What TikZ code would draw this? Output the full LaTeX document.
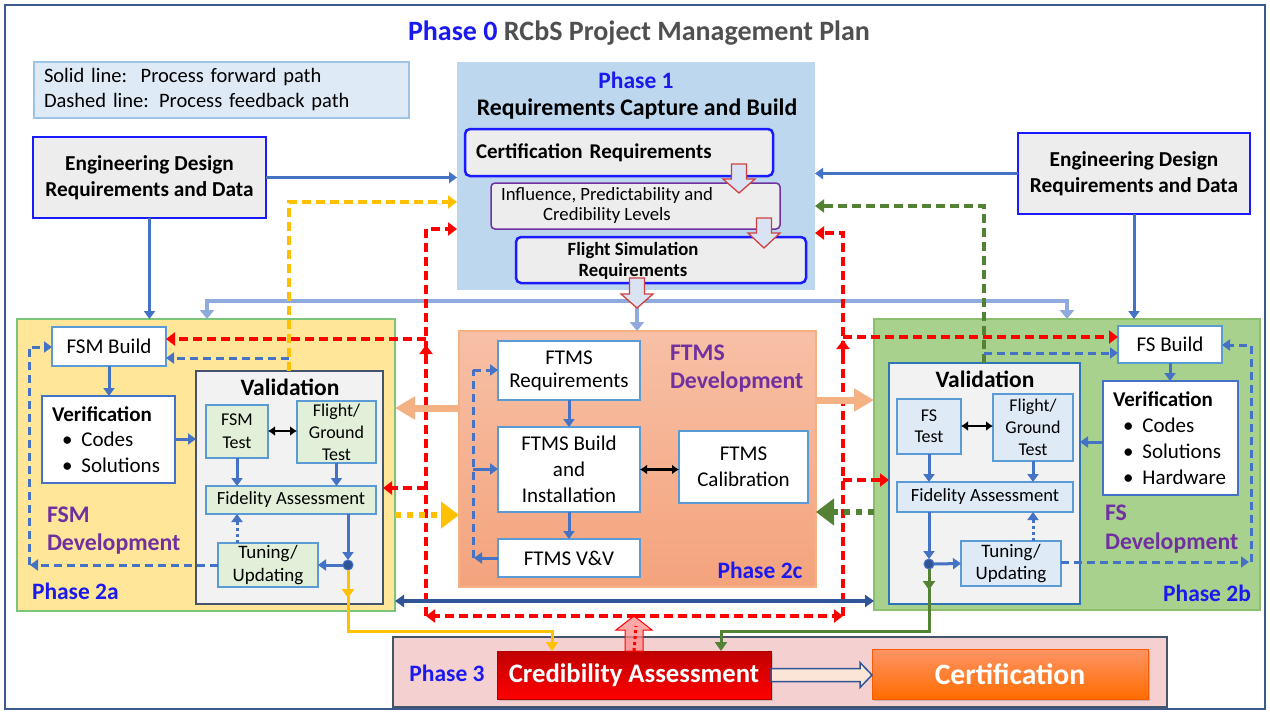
\documentclass[tikz,border=0pt]{standalone}
\usepackage{fontspec}
\setmainfont{Carlito}
\usetikzlibrary{arrows.meta,shadows,calc}
\definecolor{phblue}{HTML}{1A1AEE}
\definecolor{ttlgray}{HTML}{505050}
\definecolor{legfill}{HTML}{DEEBF7}
\definecolor{legdraw}{HTML}{9DC3E6}
\definecolor{engfill}{HTML}{EDEDED}
\definecolor{engdraw}{HTML}{1A1AFF}
\definecolor{p1fill}{HTML}{BDD7EE}
\definecolor{purp}{HTML}{7030A0}
\definecolor{fsmfill}{HTML}{FFE699}
\definecolor{fsmdraw}{HTML}{7CC47C}
\definecolor{fsfill}{HTML}{A9D18E}
\definecolor{fsdraw}{HTML}{8CBF6C}
\definecolor{ftmstop}{HTML}{F7C0A6}
\definecolor{ftmsbot}{HTML}{F4A37C}
\definecolor{ftmsdraw}{HTML}{F4B183}
\definecolor{valfill}{HTML}{F2F2F2}
\definecolor{valLdraw}{HTML}{44546A}
\definecolor{valRdraw}{HTML}{2E75B6}
\definecolor{lboxdraw}{HTML}{5B9BD5}
\definecolor{verdraw}{HTML}{4472C4}
\definecolor{grnbox}{HTML}{E2F0D9}
\definecolor{blubox}{HTML}{DEEBF7}
\definecolor{arrblue}{HTML}{4472C4}
\definecolor{lightline}{HTML}{8FAADC}
\definecolor{ylw}{HTML}{FFC000}
\definecolor{grn}{HTML}{548235}
\definecolor{rd}{HTML}{FF0000}
\definecolor{dkblue}{HTML}{2F5597}
\definecolor{peach}{HTML}{F4B183}
\definecolor{p3fill}{HTML}{F4D0D0}
\definecolor{p3draw}{HTML}{44546A}
\definecolor{framec}{HTML}{3B5A8C}
\definecolor{blkfill}{HTML}{DAE3F3}
\definecolor{blkdraw}{HTML}{D04040}
\definecolor{hollowfill}{HTML}{FBE5D6}
\begin{document}
\begin{tikzpicture}[x=1pt,y=-1pt,
  every node/.style={inner sep=0pt,outer sep=0pt},
  fz/.style 2 args={font=\fontsize{#1}{#2}\selectfont},
  fzb/.style 2 args={font=\fontsize{#1}{#2}\selectfont\bfseries},
  wbox/.style={draw=lboxdraw,fill=white,line width=2.5pt,align=center},
  gbox/.style={draw=lboxdraw,fill=grnbox,line width=2.5pt,align=center},
  lbbox/.style={draw=lboxdraw,fill=blubox,line width=2.5pt,align=center},
  bsol/.style={draw=arrblue,line width=3pt,-{Triangle[length=8pt,width=11pt]}},
  bdash/.style={bsol,dash pattern=on 8pt off 5pt},
  bdot/.style={bsol,dash pattern=on 3pt off 3pt},
  rdash/.style={draw=rd,line width=3.5pt,dash pattern=on 9pt off 5pt,-{Triangle[length=9pt,width=13pt]}},
  rtip/.style={draw=rd,line width=3.5pt,-{Triangle[length=9pt,width=13pt]}},
  ydash/.style={draw=ylw,line width=3.5pt,dash pattern=on 9pt off 5pt,-{Triangle[length=9pt,width=13pt]}},
  gdash/.style={draw=grn,line width=3.5pt,dash pattern=on 9pt off 5pt,-{Triangle[length=9pt,width=13pt]}},
  ysol/.style={draw=ylw,line width=3pt,-{Triangle[length=9pt,width=12pt]}},
  gsol/.style={draw=grn,line width=3pt,-{Triangle[length=9pt,width=12pt]}},
  lbl/.style={draw=lightline,line width=4pt,-{Triangle[length=9pt,width=14pt]}},
  blk/.style={draw=black,line width=2.6pt,{Latex[length=7pt,width=10pt]}-{Latex[length=7pt,width=10pt]}},
  peacharr/.style={draw=peach,line width=7pt,-{Triangle[length=20pt,width=22pt]}},
  ydot/.style={draw=ylw,line width=6pt,dash pattern=on 6pt off 6pt,-{Triangle[length=18pt,width=26pt]}},
  gdot/.style={draw=grn,line width=6pt,dash pattern=on 6pt off 6pt,-{Triangle[length=18pt,width=26pt]}},
  dkarr/.style={draw=dkblue,line width=3.5pt,{Triangle[length=9pt,width=12pt]}-{Triangle[length=9pt,width=12pt]}},
  blkarr/.style={draw=blkdraw,fill=blkfill,line width=1.3pt},
  junc/.style={circle,fill=dkblue,draw=arrblue,line width=1pt,minimum size=10pt},
  purplab/.style={fzb={23.8}{28.5},text=purp,align=left,anchor=west},
  phlab/.style={fzb={23.5}{26},text=phblue}
]
\useasboundingbox (0,0) rectangle (1270,713);
\fill[white] (0,0) rectangle (1270,713);
\node[draw=framec,line width=2.5pt,minimum width=1260pt,minimum height=704pt] (frame) at (635,357) {};

% title and legend
\node[fzb={28}{32}] (title) at (639,33) {\textcolor{phblue}{Phase 0} \textcolor{ttlgray}{RCbS Project Management Plan}};
\node[draw=legdraw,fill=legfill,line width=1.5pt,minimum width=375pt,minimum height=56pt,text width=355pt,align=left,fz={20.5}{25}] (legend) at (221.5,90) {Solid line:\ \ Process forward path\\Dashed line: Process feedback path};

% engineering boxes
\node[draw=engdraw,fill=engfill,line width=2.5pt,minimum width=233pt,minimum height=81pt,align=center,fzb={21.3}{26}] (engL) at (149.5,177.5) {Engineering Design\\Requirements and Data};
\node[draw=engdraw,fill=engfill,line width=2.5pt,minimum width=232pt,minimum height=81pt,align=center,fzb={21.3}{26}] (engR) at (1134,173.5) {Engineering Design\\Requirements and Data};

% phase regions
\node[fill=p1fill,minimum width=358pt,minimum height=228pt] (p1) at (636,176) {};
\node[draw=fsmdraw,fill=fsmfill,line width=1.5pt,minimum width=378pt,minimum height=292pt] (p2a) at (206,465) {};
\node[draw=ftmsdraw,top color=ftmstop,bottom color=ftmsbot,line width=1.2pt,minimum width=357pt,minimum height=256pt] (p2c) at (637.5,459) {};
\node[draw=fsdraw,fill=fsfill,line width=1.5pt,minimum width=386pt,minimum height=291pt] (p2b) at (1067,464.5) {};
\node[draw=p3draw,fill=p3fill,line width=1.5pt,minimum width=774pt,minimum height=70pt] (p3) at (780,672) {};

% phase 1 content
\node[phlab] (p1lab) at (636,80) {Phase 1};
\node[fzb={23.8}{26}] (p1ttl) at (637,109) {Requirements Capture and Build};
\node[draw=engdraw,fill=engfill,line width=2.5pt,rounded corners=5pt,minimum width=308pt,minimum height=47pt,text width=286pt,align=left,fzb={21}{23}] (certreq) at (619,152.5) {Certification Requirements};
\node[draw=purp,fill=engfill,line width=1.5pt,rounded corners=4pt,minimum width=289pt,minimum height=46pt] (infl) at (635.5,206) {};
\node[fz={18.7}{20},align=center] (infltxt) at (607,205.5) {Influence, Predictability and\\Credibility Levels};
\node[draw=engdraw,fill=engfill,line width=2.5pt,rounded corners=5pt,minimum width=290pt,minimum height=46pt] (fltsim) at (661,260) {};
\node[fzb={18.7}{21},align=center] (fltsimtxt) at (633,260.5) {Flight Simulation\\Requirements};

% phase 2a content
\node[wbox,minimum width=114pt,minimum height=39pt,fz={21}{24}] (fsmBuild) at (109,346.5) {FSM Build};
\node[wbox,draw=verdraw,minimum width=133pt,minimum height=87pt,text width=113pt,align=left,fz={21}{25.5}] (verL) at (108.5,439.5) {\textbf{Verification}\\\hspace*{10pt}\textbullet\hspace{9pt}Codes\\\hspace*{10pt}\textbullet\hspace{9pt}Solutions};
\node[draw=valLdraw,fill=valfill,line width=2.5pt,minimum width=187pt,minimum height=233pt] (valL) at (289.5,487.5) {};
\node[fzb={23.5}{27}] (valLlab) at (290,387) {Validation};
\node[gbox,minimum width=62pt,minimum height=53pt,fz={18}{23}] (fsmTest) at (237,431.5) {FSM\\Test};
\node[gbox,minimum width=79pt,minimum height=62pt,fz={18}{22}] (fgL) at (336.5,432) {Flight/\\Ground\\Test};
\node[gbox,minimum width=170pt,minimum height=28pt,fz={18.6}{22}] (fidL) at (291,500) {Fidelity Assessment};
\node[gbox,minimum width=100pt,minimum height=44pt,fz={19}{23}] (tunL) at (268,565) {Tuning/\\Updating};
\node[junc] (jL) at (348,565) {};
\node[purplab] (fsmdev) at (47,530.5) {FSM\\Development};
\node[phlab,anchor=west] (p2alab) at (32,591) {Phase 2a};

% phase 2c content
\node[wbox,minimum width=142pt,minimum height=59pt,fz={21}{23}] (ftmsReq) at (569,370.5) {FTMS\\Requirements};
\node[wbox,minimum width=142pt,minimum height=85pt,fz={21}{26}] (ftmsBuild) at (569,469.5) {FTMS Build\\and\\Installation};
\node[wbox,minimum width=142pt,minimum height=38pt,fz={21}{24}] (ftmsVV) at (569,558) {FTMS V\&V};
\node[wbox,minimum width=129pt,minimum height=72pt,fz={21}{26}] (ftmsCal) at (743.5,467) {FTMS\\Calibration};
\node[purplab] (ftmsdev) at (670,368.5) {FTMS\\Development};
\node[phlab] (p2clab) at (760,570) {Phase 2c};

% phase 2b content
\node[wbox,minimum width=104pt,minimum height=37pt,fz={21}{24}] (fsBuild) at (1170,344.5) {FS Build};
\node[wbox,draw=verdraw,minimum width=135pt,minimum height=114pt,text width=115pt,align=left,fz={21}{26}] (verR) at (1170.5,438) {\textbf{Verification}\\\hspace*{10pt}\textbullet\hspace{9pt}Codes\\\hspace*{10pt}\textbullet\hspace{9pt}Solutions\\\hspace*{10pt}\textbullet\hspace{9pt}Hardware};
\node[draw=valRdraw,fill=valfill,line width=2.5pt,minimum width=191pt,minimum height=241pt] (valR) at (984.5,483.5) {};
\node[fzb={23.5}{27}] (valRlab) at (985,379) {Validation};
\node[lbbox,minimum width=64pt,minimum height=55pt,fz={18}{21}] (fsTest) at (929,426.5) {FS\\Test};
\node[lbbox,minimum width=80pt,minimum height=67pt,fz={18}{22}] (fgR) at (1033,427.5) {Flight/\\Ground\\Test};
\node[lbbox,minimum width=176pt,minimum height=30pt,fz={18.6}{22}] (fidR) at (985,497) {Fidelity Assessment};
\node[lbbox,minimum width=100pt,minimum height=45pt,fz={19}{22}] (tunR) at (1011,563.5) {Tuning/\\Updating};
\node[junc] (jR) at (929,564) {};
\node[purplab] (fsdev) at (1105,529) {FS\\Development};
\node[phlab] (p2blab) at (1207,593) {Phase 2b};

% phase 3 content
\node[phlab] (p3lab) at (447,673) {Phase 3};
\node[top color=rd!75!black,bottom color=rd,draw=rd!70!black,line width=0.5pt,minimum width=274pt,minimum height=48pt,text=white,fzb={26.7}{30},drop shadow={opacity=0.35,shadow xshift=2pt,shadow yshift=-2pt}] (credA) at (634,675) {Credibility Assessment};
\node[top color=orange!60!red!60!white,bottom color=orange!85!red,draw=orange!70!red,line width=0.5pt,minimum width=276pt,minimum height=50pt,text=white,fzb={29.6}{32},drop shadow={opacity=0.35,shadow xshift=2pt,shadow yshift=-2pt}] (cert) at (1010,674) {Certification};
\draw[draw=dkblue,fill=hollowfill,line width=1.5pt,shift={(credA.east)}] (0,-6.5) -- (89,-6.5) -- (89,-12.5) -- (101,0) -- (89,12.5) -- (89,6.5) -- (0,6.5) -- cycle;

% ---------- connectors ----------
% engineering data
\draw[bsol] (engL.east) -- (engL.east -| p1.west);
\draw[bsol] (engL.south) -- (engL.south |- p2a.north);
\draw[bsol] (engR.west) -- (engR.west -| p1.east);
\draw[bsol] (engR.south) -- (engR.south |- p2b.north);

% light blue distribution
\coordinate (lbL) at (207,301);
\coordinate (lbR) at (1067,301);
\draw[lbl] (p1.south -| 637,0) -- (637,0 |- p2c.north);
\draw[lbl] (637,301) -| (lbL |- p2a.north);
\draw[lbl] (637,301) -| (lbR |- p2b.north);

% yellow feedback from FSM validation
\draw[ydash] (289,0 |- valL.north) |- (p1.west |- 0,202);
\draw[bdash] (289,358) -- (fsmBuild.east |- 0,358);

% green feedback from FS validation
\draw[gdash] (984,0 |- valR.north) |- (p1.east |- 0,206);
\draw[bdash] (984,353) -- (fsBuild.west |- 0,353);

% red feedback
\coordinate (rc) at (636,616);
\coordinate (rl) at (426,616);
\coordinate (rr) at (843,616);
\draw[rdash] (rc) -- (rl);
\draw[rdash] (rc) -- (rr);
\draw[rdash] (rl) -- (426,229) -- (p1.west |- 0,229);
\draw[rdash] (426,339) -- (fsmBuild.east |- 0,339);
\draw[rdash] (426,488) -- (valL.east |- 0,488);
\draw[rtip] (426,362) -- (426,345);
\draw[rdash] (rr) -- (843,233) -- (p1.east |- 0,233);
\draw[rdash] (843,337) -- (fsBuild.west |- 0,337);
\draw[rdash] (843,480) -- (valR.west |- 0,480);
\draw[rtip] (843,357) -- (843,340);

% inter-phase arrows
\draw[peacharr] (p2c.west |- 0,408) -- (p2a.east |- 0,408);
\draw[peacharr] (p2c.east |- 0,400) -- (p2b.west |- 0,400);
\draw[ydot] (p2a.east |- 0,515) -- (p2c.west |- 0,515);
\draw[gdot] (p2b.west |- 0,512) -- (p2c.east |- 0,512);
\draw[dkarr] (p2a.east |- 0,601) -- (p2b.west |- 0,601);

% FSM internal
\draw[bsol] (fsmBuild.south) -- (fsmBuild.south |- verL.north);
\draw[bsol] (verL.east |- 0,439) -- (valL.west |- 0,439);
\draw[bsol] (fsmTest.south) -- (fsmTest.south |- fidL.north);
\draw[bsol] (fgL.south) -- (fgL.south |- fidL.north);
\draw[blk] (fsmTest.east |- 0,431) -- (fgL.west |- 0,431);
\draw[bdot] (237,0 |- tunL.north) -- (237,0 |- fidL.south);
\draw[bsol] (jL |- fidL.south) -- (jL.north);
\draw[bsol] (jL.west) -- (tunL.east);
\draw[bdash] (tunL.west) -- (30,565);
\draw[bdash] (29,565) |- (fsmBuild.west |- 0,347);
\draw[ysol] (jL.south) -- (348,598);
\draw[ysol] (348,596) -- (348,631) -- (552,631) -- (552,0 |- credA.north);

% FTMS internal
\draw[bsol] (ftmsReq.south) -- (ftmsBuild.north);
\draw[bsol] (ftmsBuild.south) -- (ftmsVV.north);
\draw[blk] (ftmsBuild.east) -- (ftmsBuild.east -| ftmsCal.west);
\draw[bsol] (ftmsVV.west) -- (474,558);
\draw[bdash,-] (473,558) -- (473,370);
\draw[bdash] (473,370) -- (ftmsReq.west |- 0,370);
\draw[bsol] (473,469) -- (ftmsBuild.west |- 0,469);

% FS internal
\draw[bsol] (fsBuild.south) -- (fsBuild.south |- verR.north);
\draw[bsol] (verR.west |- 0,442) -- (valR.east |- 0,442);
\draw[bsol] (fsTest.south) -- (fsTest.south |- fidR.north);
\draw[bsol] (fgR.south) -- (fgR.south |- fidR.north);
\draw[blk] (fsTest.east |- 0,426) -- (fgR.west |- 0,426);
\draw[bdot] (1033,0 |- tunR.north) -- (1033,0 |- fidR.south);
\draw[bsol] (jR |- fidR.south) -- (jR.north);
\draw[bsol] (jR.east) -- (tunR.west);
\draw[bdash] (tunR.east |- 0,562) -- (1249,562);
\draw[bdash] (1251,562) |- (fsBuild.east |- 0,345);
\draw[gsol] (jR.south) -- (929,590);
\draw[gsol] (929,588) -- (929,631) -- (721,631) -- (721,0 |- credA.north);

% block arrows in phase 1
\draw[blkarr,shift={(739,164)}] (-7.5,0) -- (7.5,0) -- (7.5,15) -- (16,15) -- (0,29) -- (-16,15) -- (-7.5,15) -- cycle;
\draw[blkarr,shift={(764,218)}] (-7.5,0) -- (7.5,0) -- (7.5,15) -- (16,15) -- (0,30) -- (-16,15) -- (-7.5,15) -- cycle;
\draw[blkarr,shift={(637,278)}] (-7.5,0) -- (7.5,0) -- (7.5,16) -- (16,16) -- (0,30) -- (-16,16) -- (-7.5,16) -- cycle;

% red block arrow from credibility assessment
\draw[draw=rd,fill=rd!45,fill opacity=0.75,line width=1pt,shift={(credA.north)}] (-9,0) -- (-9,-21) -- (-18,-21) -- (0,-35) -- (18,-21) -- (9,-21) -- (9,0) -- cycle;
\draw[draw=rd,line width=3pt,dash pattern=on 3pt off 3pt] (credA.north) -- (rc |- 0,626);
\end{tikzpicture}
\end{document}
